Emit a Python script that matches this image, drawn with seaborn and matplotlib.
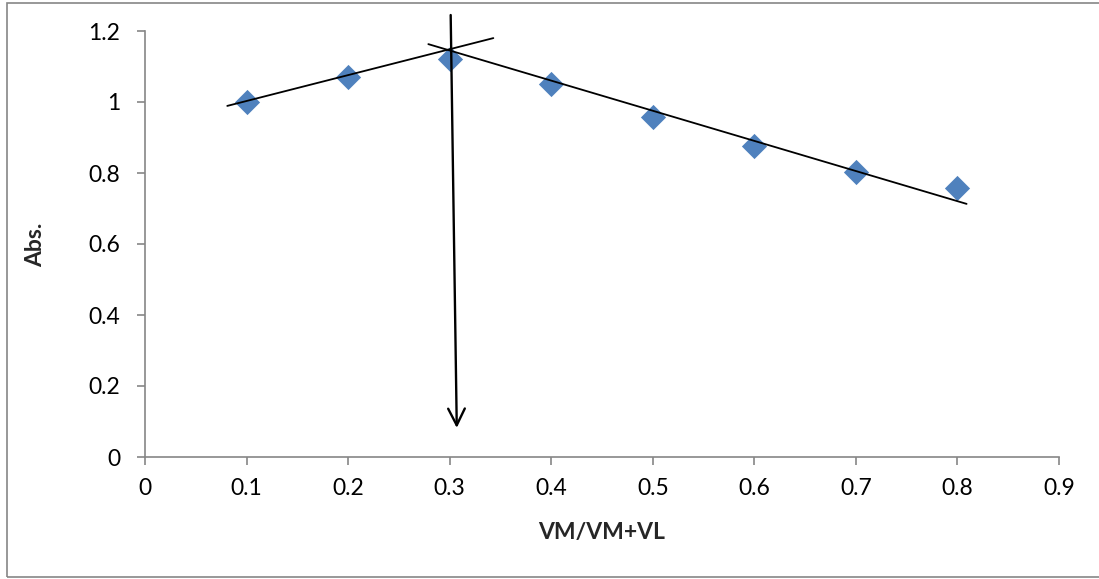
import matplotlib
matplotlib.use("Agg")
import matplotlib.pyplot as plt
from matplotlib.patches import Rectangle
import seaborn as sns
import pandas as pd

# Job's method (continuous variation) measurements
mole_fraction = [0.1, 0.2, 0.3, 0.4, 0.5, 0.6, 0.7, 0.8]
absorbance = [1.0, 1.07, 1.121, 1.052, 0.958, 0.877, 0.803, 0.759]

# Hand-drawn tangent lines through the rising and falling branches
rise_x = [0.081, 0.343]
rise_y = [0.989, 1.180]
fall_x = [0.279, 0.809]
fall_y = [1.163, 0.713]

# Vertical arrow marking the stoichiometric ratio
arrow_x = [0.301, 0.307]
arrow_y = [1.245, 0.082]

x_ticks = [0, 0.1, 0.2, 0.3, 0.4, 0.5, 0.6, 0.7, 0.8, 0.9]
y_ticks = [0, 0.2, 0.4, 0.6, 0.8, 1.0, 1.2]
x_tick_labels = ["0", "0.1", "0.2", "0.3", "0.4", "0.5", "0.6", "0.7", "0.8", "0.9"]
y_tick_labels = ["0", "0.2", "0.4", "0.6", "0.8", "1", "1.2"]

sns.set_theme(style="white")
plt.rcParams["font.family"] = ["Lato", "DejaVu Sans"]

axis_grey = "#868686"
marker_blue = "#4F81BD"

fig = plt.figure(figsize=(10.99, 5.79), dpi=100)
ax = fig.add_axes([145 / 1099, 1 - 457 / 579, (1059 - 145) / 1099, (457 - 31) / 579])

# Outer chart frame
fig.patches.append(Rectangle((7 / 1099, 2 / 579), 1.2, 1 - 5 / 579,
                             transform=fig.transFigure, fill=False,
                             edgecolor=axis_grey, linewidth=1.2, zorder=0))

df = pd.DataFrame({"x": mole_fraction, "y": absorbance})
sns.scatterplot(data=df, x="x", y="y", marker="D", s=165, color=marker_blue,
                edgecolor=marker_blue, linewidth=0, ax=ax, zorder=3)

sns.lineplot(x=rise_x, y=rise_y, color="black", linewidth=1.3, ax=ax, zorder=4)
sns.lineplot(x=fall_x, y=fall_y, color="black", linewidth=1.3, ax=ax, zorder=4)

ax.annotate("", xy=(arrow_x[1], arrow_y[1]), xytext=(arrow_x[0], arrow_y[0]),
            xycoords="data", textcoords="data", annotation_clip=False,
            arrowprops=dict(arrowstyle="->", color="black", lw=1.7,
                            mutation_scale=30, shrinkA=0, shrinkB=0))

ax.set_xlim(0, 0.9)
ax.set_ylim(0, 1.2)
ax.set_xticks(x_ticks)
ax.set_xticklabels(x_tick_labels)
ax.set_yticks(y_ticks)
ax.set_yticklabels(y_tick_labels)

for side in ("top", "right"):
    ax.spines[side].set_visible(False)
for side in ("left", "bottom"):
    ax.spines[side].set_color(axis_grey)
    ax.spines[side].set_linewidth(1.2)

ax.tick_params(axis="both", which="major", direction="out", length=6,
               width=1.2, color=axis_grey, labelsize=16.5, labelcolor="black",
               bottom=True, left=True)
ax.tick_params(axis="x", pad=9)
ax.tick_params(axis="y", pad=12)

ax.set_xlabel("VM/VM+VL", fontsize=16.5, fontweight="bold")
ax.set_ylabel("Abs.", fontsize=16.5, fontweight="bold")
ax.xaxis.set_label_coords(0.5, -0.178)
ax.yaxis.set_label_coords(-0.120, 0.498)
ax.xaxis.label.set_va("center")
ax.yaxis.label.set_va("center")

fig.savefig("out.png", dpi=100)
